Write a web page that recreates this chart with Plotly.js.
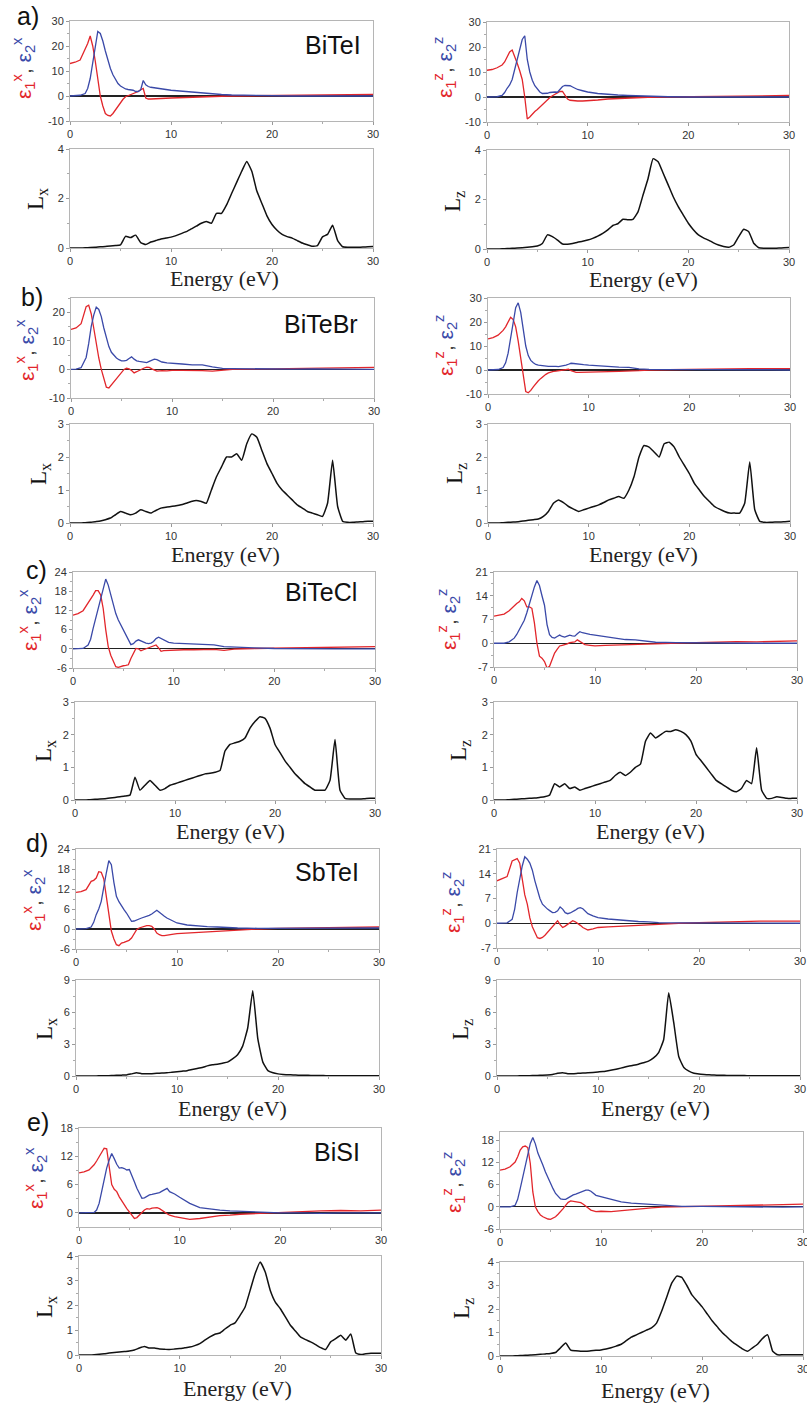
<!DOCTYPE html>
<html><head><meta charset="utf-8">
<script src="https://cdn.plot.ly/plotly-3.0.1.min.js"></script>
<style>html,body{margin:0;padding:0;background:#fff}#chart{width:807px;height:1406px}</style>
</head><body><div id="chart"></div>
<script>
const W = 807, H = 1406;
const RED = '#e2262b', BLUE = '#3a49a8';
const SANS = "'Liberation Sans', Arial, sans-serif";
const SERIF = "'Liberation Serif', 'Times New Roman', serif";

// Energy grids (eV)
const E_EPS = [0,0.5,1,1.5, 1.75,2,2.25,2.5, 2.75,3,3.25,3.5, 3.75,4,4.25,4.5, 4.75,5,5.25,5.5, 5.75,6,6.25,6.5, 6.75,7,7.25,7.5, 7.75,8,8.25,8.5, 8.75,9,9.5,10, 11,12,13,14, 15,16,18,20, 22,24,26,28, 30];
const E_LOSS = [0,0.5,1,1.5,2,2.5,3,3.5,4,4.5, 5,5.5,6,6.5,7,7.5,8,8.5,9,9.5, 10,10.5,11,11.5,12,12.5,13,13.5,14,14.5, 15,15.5,16,16.5,17,17.5,18,18.5,19,19.5, 20,20.5,21,21.5,22,22.5,23,23.5,24,24.5, 25,25.5,26,26.5,27,27.5,28,28.5,29,29.5, 30];

// a) BiTeI
const BiTeI_e1x = [13,13.5,14.4,18.5, 21,24,20,14, 6,0,-4,-7, -7.8,-8,-7,-5.5, -4,-2.5,-1.3,-0.3, 0.1,0.4,0.8,1.2, 1.8,2.5,3,-0.8, -1.2,-1.2,-1.1,-1.1, -1,-1,-0.9,-0.8, -0.6,-0.4,-0.3,-0.2, -0.1,0,0.1,0.2, 0.3,0.4,0.5,0.5, 0.6];
const BiTeI_e2x = [0,0.1,0.3,1, 3,7,13,20, 25.8,25,22,18, 14,11,8.5,6.5, 5,4,3.3,2.8, 2.6,2.6,2.3,1.8, 1.8,2.5,6.2,4.5, 3.8,3.5,3.3,3.1, 3,2.9,2.6,2.3, 1.9,1.5,1.1,0.9, 0.6,0.4,0.2,0.1, 0,0,0,0, 0];
const BiTeI_e1z = [10.7,11,11.7,12.8, 14,16,18,18.8, 16.5,13.5,10.5,7, 0,-8.8,-8,-6.8, -5.8,-5,-4,-3, -1.8,-1,-0.2,0.5, 1,1.6,2.2,2.2, 0.5,-0.8,-1.3,-1.5, -1.6,-1.6,-1.6,-1.5, -1.2,-0.8,-0.6,-0.4, -0.2,-0.1,0,0.1, 0.3,0.5,0.6,0.6, 0.6];
const BiTeI_e2z = [0,0,0.1,0.6, 1.8,3.5,4.8,7, 11,14.5,19,23, 24.5,15,10,6.7, 4.5,3,2,1.4, 1.3,1.5,1.8,2, 2,1.9,3,4.2, 4.6,4.7,4.5,4, 3.5,3,2.5,2, 1.4,1,0.8,0.6, 0.4,0.3,0.1,0, 0,0,0,0, 0];
const BiTeI_Lx = [0,0,0,0.01,0.02,0.03,0.05,0.06,0.08,0.1, 0.13,0.47,0.42,0.52,0.22,0.14,0.24,0.3,0.36,0.4, 0.44,0.5,0.58,0.66,0.77,0.88,1.0,1.07,1.0,1.4, 1.4,1.74,2.2,2.65,3.1,3.5,3.1,2.3,1.8,1.3, 0.95,0.72,0.55,0.46,0.4,0.3,0.2,0.13,0.07,0.1, 0.45,0.55,0.92,0.3,0.05,0.03,0.03,0.03,0.04,0.05, 0.06];
const BiTeI_Lz = [0,0,0,0.01,0.02,0.03,0.04,0.05,0.07,0.09, 0.12,0.22,0.57,0.5,0.36,0.2,0.19,0.22,0.27,0.31, 0.36,0.43,0.52,0.63,0.77,0.95,1.02,1.2,1.18,1.2, 1.5,2.18,2.85,3.65,3.53,3.06,2.59,2.11,1.71,1.37, 1.04,0.78,0.57,0.45,0.36,0.25,0.16,0.1,0.07,0.16, 0.5,0.8,0.7,0.23,0.05,0.03,0.03,0.03,0.04,0.05, 0.06];

// b) BiTeBr
const BiTeBr_e1x = [14,14.5,16,22, 22.5,19.5,14.5,9, 4,0,-3.5,-6.2, -6.5,-5.4,-4.2,-3, -1.8,-0.8,0,0.4, 0.2,-0.4,-1.2,-0.8, -0.3,0,0.5,0.8, 0.7,0.2,-0.3,-0.6, -0.5,-0.4,-0.5,-0.3, -0.3,-0.3,-0.4,-0.6, -0.2,0,0.1,0.2, 0.3,0.6,0.5,0.6, 0.7];
const BiTeBr_e2x = [0,0.1,0.6,4.2, 9,15,19,21.8, 21,18.5,14.5,10.7, 8,6,4.8,4, 3.4,3,3,3.2, 3.8,4.4,3.6,3, 2.8,2.7,2.5,2.4, 2.8,3.3,3.6,3.4, 3,2.6,2.3,2.1, 1.9,1.6,1.6,0.9, 0.4,0.3,0.2,0.1, 0.1,0.2,0.1,0.1, 0];
const BiTeBr_e1z = [13,13.5,14.5,16.5, 18,20,22,21, 18,12,5,-2, -9,-9.5,-8.5,-7, -5.5,-4.5,-3.5,-2.5, -1.8,-1.2,-0.8,-0.6, -0.5,-0.3,-0.2,0, 0.2,0.3,-0.3,-0.8, -1,-1,-1,-0.9, -0.8,-0.7,-0.6,-0.6, -0.3,0,0.2,0.3, 0.4,0.5,0.6,0.6, 0.6];
const BiTeBr_e2z = [0,0,0.2,1, 3,7,13,20, 26,28,24,17, 10,6,4,3, 2.3,2,1.8,1.7, 1.6,1.5,1.5,1.6, 1.5,1.4,1.5,1.8, 2,2.4,2.8,2.7, 2.5,2.4,2.2,2, 1.7,1.3,1.2,1.1, 0.5,0.3,0.2,0.1, 0.1,0.1,0.1,0.1, 0];
const BiTeBr_Lx = [0,0,0,0.01,0.02,0.04,0.06,0.1,0.15,0.25, 0.35,0.3,0.25,0.3,0.4,0.35,0.3,0.38,0.45,0.48, 0.5,0.52,0.55,0.6,0.65,0.68,0.65,0.6,1.0,1.4, 1.7,2.0,2.0,2.1,1.9,2.4,2.7,2.6,2.2,1.8, 1.5,1.2,1.0,0.85,0.7,0.55,0.45,0.35,0.3,0.25, 0.2,0.6,1.9,0.5,0.05,0.02,0.02,0.03,0.04,0.05, 0.05];
const BiTeBr_Lz = [0,0,0,0.01,0.02,0.03,0.04,0.06,0.08,0.1, 0.12,0.2,0.35,0.6,0.7,0.62,0.5,0.42,0.35,0.4, 0.45,0.5,0.55,0.62,0.7,0.75,0.8,0.75,1.0,1.4, 2.0,2.35,2.3,2.15,2.0,2.4,2.45,2.3,2.0,1.75, 1.5,1.2,1.0,0.8,0.65,0.5,0.42,0.35,0.3,0.3, 0.3,0.6,1.85,0.4,0.05,0.02,0.02,0.03,0.03,0.04, 0.05];

// c) BiTeCl
const BiTeCl_e1x = [10.5,11,11.9,14.2, 15.5,16.8,18.2,18.2, 16.8,12.6,6,0.7, -2,-4,-5.6,-5.8, -5.5,-5.3,-5.2,-5, -3,-1.3,0.1,0, -0.6,-0.3,0,0.2, 0.6,1,1.2,0.3, -0.8,-0.6,-0.5,-0.4, -0.3,-0.3,-0.2,-0.2, -0.5,-0.1,0.1,0.2, 0.3,0.4,0.5,0.6, 0.7];
const BiTeCl_e2x = [0,0,0.1,1.2, 3,6.4,9.5,13.1, 16,19.3,21.8,19.9, 17,13.7,11,9, 7.5,5.9,4.2,2.8, 1.3,1.6,2.4,2.8, 2.4,2,1.8,1.6, 1.8,2.3,3.2,3.6, 3.2,2.6,2,1.8, 1.6,1.4,1.3,1.2, 0.7,0.5,0.3,0.1, 0,0,0,0, 0];
const BiTeCl_e1z = [8,8.2,8.6,9.6, 10.3,11.2,11.7,12.2, 13.2,12.5,10.7,10.7, 10.3,6,0,-3.8, -4.4,-5.4,-7.3,-6.8, -5,-2.9,-1.8,-0.8, -0.6,-0.5,-0.2,0.2, 0.3,0.4,1,0.5, 0,-0.4,-0.6,-0.8, -0.6,-0.5,-0.4,-0.4, -0.3,0,0.1,0.2, 0.3,0.5,0.4,0.6, 0.7];
const BiTeCl_e2z = [0,0,0,0.4, 0.9,1.5,2.6,3.9, 5.3,6.8,9,11.7, 14,16.6,18.5,17, 14,11.2,5.5,2.5, 1.7,1.5,2,2.4, 2,1.8,2.1,2.4, 2.2,2.1,2.8,3.4, 3.1,2.9,2.6,2.4, 1.9,1.4,1.1,1, 0.6,0.3,0.2,0.1, 0.1,0.1,0,0, 0];
const BiTeCl_Lx = [0,0,0,0.01,0.02,0.03,0.04,0.06,0.08,0.1, 0.12,0.15,0.7,0.3,0.45,0.6,0.45,0.3,0.35,0.45, 0.5,0.55,0.6,0.65,0.7,0.75,0.8,0.82,0.85,0.9, 1.5,1.7,1.75,1.8,1.9,2.2,2.4,2.55,2.5,2.2, 1.7,1.45,1.2,1.0,0.8,0.65,0.5,0.4,0.3,0.3, 0.3,0.6,1.85,0.3,0.05,0.03,0.03,0.03,0.04,0.05, 0.05];
const BiTeCl_Lz = [0,0,0,0.01,0.02,0.03,0.04,0.05,0.06,0.08, 0.1,0.15,0.5,0.4,0.5,0.35,0.4,0.3,0.35,0.4, 0.45,0.5,0.55,0.6,0.75,0.85,0.75,0.85,1.0,1.1, 1.8,2.05,1.9,2.0,2.1,2.1,2.15,2.1,2.0,1.8, 1.4,1.2,1.0,0.8,0.6,0.5,0.4,0.3,0.25,0.35, 0.6,0.5,1.6,0.3,0.05,0.05,0.1,0.08,0.05,0.05, 0.05];

// d) SbTeI
const SbTeI_e1x = [11,11.2,11.8,14.3, 14.6,15.3,17.2,17, 15,9.8,3.5,-0.6, -3,-4.7,-5,-4.2, -4,-3.7,-3.4,-2.7, -1.4,-0.2,0.3,0.6, 0.8,1,1,0.8, 0,-1.2,-1.7,-2, -2,-1.8,-1.6,-1.4, -1.2,-1,-0.8,-0.6, -0.5,-0.3,0,0.2, 0.3,0.4,0.5,0.6, 0.6];
const SbTeI_e2x = [0,0,0.1,0.6, 2,4.3,6,8.3, 12,16.8,20.5,19.3, 14,9.8,8.2,6.8, 5.8,4.8,3.5,2.3, 2.4,2.8,3,3.3, 3.5,3.8,4.1,4.5, 5,5.6,5,4.3, 3.8,3.3,2.5,1.8, 1.2,0.9,0.7,0.6, 0.4,0.3,0.2,0.2, 0.2,0.2,0.2,0.3, 0.3];
const SbTeI_e1z = [12,12.5,13.2,17.6, 18,18.3,17,13, 8,5.4,1.5,-1, -2.8,-4.1,-4.3,-4, -3.4,-2.6,-1.6,-0.8, 0,0.7,-0.4,-1.2, -0.8,-0.3,0.2,0.7, 0.4,0,-0.6,-1.2, -1.6,-1.9,-1.6,-1.2, -1,-0.9,-0.7,-0.6, -0.4,-0.3,0,0.2, 0.3,0.5,0.6,0.6, 0.6];
const SbTeI_e2z = [0,0,0.1,1.1, 4,8.7,12.5,16.2, 18.8,18.1,17,15, 12,9.2,7,5.4, 4.6,4,3.5,3, 3.1,3.5,4.6,4, 3,2.7,2.9,3.2, 3.7,4.2,4.4,4.1, 3.5,2.7,2.1,1.6, 1.2,0.9,0.7,0.5, 0.4,0.2,0.1,0.1, 0,0,0,0, 0];
const SbTeI_Lx = [0,0,0,0,0.01,0.02,0.03,0.04,0.06,0.08, 0.1,0.2,0.3,0.22,0.2,0.22,0.25,0.28,0.3,0.35, 0.4,0.45,0.5,0.6,0.7,0.8,0.95,1.05,1.1,1.2, 1.3,1.6,2.0,2.8,4.5,8.0,3.5,1.3,0.5,0.3, 0.2,0.15,0.12,0.1,0.08,0.07,0.06,0.05,0.04,0.04, 0.03,0.03,0.02,0.02,0.02,0.02,0.02,0.02,0.02,0.02, 0.02];
const SbTeI_Lz = [0,0,0,0,0.01,0.02,0.03,0.04,0.05,0.07, 0.1,0.15,0.25,0.3,0.22,0.22,0.25,0.28,0.3,0.33, 0.38,0.42,0.5,0.58,0.68,0.8,0.92,1.0,1.1,1.25, 1.4,1.7,2.2,3.4,7.8,5.0,1.8,0.8,0.45,0.25, 0.18,0.14,0.11,0.09,0.07,0.06,0.05,0.05,0.04,0.04, 0.03,0.03,0.03,0.02,0.02,0.02,0.02,0.02,0.02,0.02, 0.02];

// e) BiSI
const BiSI_e1x = [8.5,8.7,9.1,10.2, 11,11.9,12.8,13.7, 13.6,10.2,6,5, 4.5,3.4,2.5,1.6, 0.9,0.2,-0.6,-1.2, -1,-0.5,0.2,0.6, 0.9,0.8,1,1.1, 1.1,0.9,0.6,0.2, -0.2,-0.5,-0.8,-1, -1.4,-1.2,-0.9,-0.6, -0.5,-0.3,-0.1,0.1, 0.3,0.4,0.5,0.4, 0.6];
const BiSI_e2x = [0,0,0,0.1, 0.6,2,4.5,7, 9.5,11.2,12.6,11.5, 10.3,9.5,9.6,9.4, 9.1,9.2,8,6.6, 5.2,4.1,3.1,3.2, 3.5,3.8,3.9,4, 4.1,4.3,4.6,5, 5.2,4.5,4,3.3, 2,1.1,0.8,0.6, 0.4,0.3,0.1,0, 0,-0.1,0,0, 0];
const BiSI_e1z = [9.9,10.2,10.8,12.1, 13.5,15.3,16.2,16.4, 16,11.7,4,0, -1.3,-2.2,-2.7,-3.1, -3.3,-3.4,-3.1,-2.7, -2,-1.3,-0.5,0.4, 1.2,1.6,1.5,1.3, 1.2,1.1,0.7,0.2, -0.4,-0.9,-1.3,-1.2, -1.3,-1,-0.8,-0.5, -0.3,-0.1,0,0.2, 0.3,0.5,0.5,0.6, 0.7];
const BiSI_e2z = [0,0,0,0.4, 2,4.9,8,11.7, 14.5,17.1,18.7,17, 14.5,13,11.2,9.4, 7.8,6.3,4.9,3.6, 2.7,2.1,2,2, 2.4,2.9,3.2,3.4, 3.7,4,4.3,4.5, 4.5,4.2,3.1,2.7, 2,1.3,1,0.8, 0.5,0.3,0.1,0.1, 0,0,-0.1,-0.1, 0];
const BiSI_Lx = [0,0,0,0.01,0.03,0.05,0.08,0.1,0.12,0.14, 0.16,0.2,0.28,0.34,0.28,0.28,0.24,0.23,0.22,0.24, 0.26,0.29,0.32,0.38,0.46,0.6,0.73,0.84,0.89,1.05, 1.2,1.3,1.6,1.94,2.61,3.29,3.76,3.35,2.61,2.14, 1.87,1.54,1.2,0.97,0.73,0.62,0.53,0.42,0.3,0.22, 0.53,0.66,0.8,0.6,0.85,0.08,0.02,0.05,0.07,0.07, 0.07];
const BiSI_Lz = [0,0,0,0.01,0.02,0.03,0.04,0.05,0.07,0.09, 0.11,0.15,0.35,0.55,0.25,0.22,0.2,0.2,0.22,0.24, 0.26,0.3,0.35,0.42,0.5,0.65,0.8,0.9,1.0,1.1, 1.2,1.4,1.9,2.5,3.1,3.4,3.35,3.0,2.6,2.35, 2.1,1.8,1.5,1.25,1.0,0.8,0.6,0.45,0.3,0.2, 0.35,0.5,0.75,0.9,0.2,0.05,0.05,0.05,0.05,0.05, 0.05];

// Tick labels
const X_TICKS = [0,10,20,30];

// Panel layout: pixel boxes [left, right, top, bottom]
const PANELS = [
  {kind:'eps', a:BiTeI_e1x, b:BiTeI_e2x, box:[70,373,21,121], yr:[-10,30], yt:[-10,0,10,20,30], ym:5},
  {kind:'eps', a:BiTeI_e1z, b:BiTeI_e2z, box:[487,789,22,122], yr:[-10,30], yt:[-10,0,10,20,30], ym:5},
  {kind:'loss', a:BiTeI_Lx, box:[70,373,149,248], yr:[0,4], yt:[0,2,4], ym:1},
  {kind:'loss', a:BiTeI_Lz, box:[487,789,150,249], yr:[0,4], yt:[0,2,4], ym:1},

  {kind:'eps', a:BiTeBr_e1x, b:BiTeBr_e2x, box:[71,374,298,398], yr:[-10,25], yt:[-10,0,10,20], ym:5},
  {kind:'eps', a:BiTeBr_e1z, b:BiTeBr_e2z, box:[488,790,298,394], yr:[-10,30], yt:[-10,0,10,20,30], ym:5},
  {kind:'loss', a:BiTeBr_Lx, box:[70,373,424,523], yr:[0,3], yt:[0,1,2,3], ym:0.5},
  {kind:'loss', a:BiTeBr_Lz, box:[488,790,424,523], yr:[0,3], yt:[0,1,2,3], ym:0.5},

  {kind:'eps', a:BiTeCl_e1x, b:BiTeCl_e2x, box:[73,375,572,668], yr:[-6,24], yt:[-6,0,6,12,18,24], ym:3},
  {kind:'eps', a:BiTeCl_e1z, b:BiTeCl_e2z, box:[494,797,572,667], yr:[-7,21], yt:[-7,0,7,14,21], ym:3.5},
  {kind:'loss', a:BiTeCl_Lx, box:[75,375,702,800], yr:[0,3], yt:[0,1,2,3], ym:0.5},
  {kind:'loss', a:BiTeCl_Lz, box:[494,797,702,800], yr:[0,3], yt:[0,1,2,3], ym:0.5},

  {kind:'eps', a:SbTeI_e1x, b:SbTeI_e2x, box:[76,379,849,949], yr:[-6,24], yt:[-6,0,6,12,18,24], ym:3},
  {kind:'eps', a:SbTeI_e1z, b:SbTeI_e2z, box:[497,800,849,948], yr:[-7,21], yt:[-7,0,7,14,21], ym:3.5},
  {kind:'loss', a:SbTeI_Lx, box:[76,379,980,1076], yr:[0,9], yt:[0,3,6,9], ym:1.5},
  {kind:'loss', a:SbTeI_Lz, box:[497,800,980,1076], yr:[0,9], yt:[0,3,6,9], ym:1.5},

  {kind:'eps', a:BiSI_e1x, b:BiSI_e2x, box:[79,381,1128,1227], yr:[-3,18], yt:[0,6,12,18], ym:3},
  {kind:'eps', a:BiSI_e1z, b:BiSI_e2z, box:[500,803,1132,1229], yr:[-6,20.2], yt:[-6,0,6,12,18], ym:3},
  {kind:'loss', a:BiSI_Lx, box:[79,381,1256,1355], yr:[0,4], yt:[0,1,2,3,4], ym:0.5},
  {kind:'loss', a:BiSI_Lz, box:[500,803,1262,1356], yr:[0,4], yt:[0,1,2,3,4], ym:0.5}
];

const traces = [];
const layout = {
  width: W, height: H, margin: {l:0, r:0, t:0, b:0},
  paper_bgcolor: '#fff', plot_bgcolor: '#fff', showlegend: false,
  font: {family: SANS, size: 11, color: '#333'},
  annotations: []
};

PANELS.forEach((p, i) => {
  const n = i + 1, sfx = n === 1 ? '' : String(n);
  const [l, r, t, b] = p.box;
  const tickfont = {family: SANS, size: 11, color: '#333'};
  layout['xaxis' + sfx] = {
    domain: [l / W, r / W], anchor: 'y' + sfx, range: [0, 30],
    tickmode: 'array', tickvals: X_TICKS, ticktext: X_TICKS.map(String),
    ticks: 'outside', ticklen: 3, tickcolor: '#999', tickfont, ticklabeloverflow: 'allow',
    minor: {tickmode: 'linear', tick0: 0, dtick: 5, ticks: 'outside', ticklen: 2, tickcolor: '#aaa'},
    showline: true, mirror: true, linecolor: '#b5b5b5', linewidth: 1,
    showgrid: false, zeroline: false, fixedrange: true
  };
  layout['yaxis' + sfx] = {
    domain: [1 - b / H, 1 - t / H], anchor: 'x' + sfx, range: p.yr,
    tickmode: 'array', tickvals: p.yt, ticktext: p.yt.map(String),
    ticks: 'outside', ticklen: 3, tickcolor: '#999', tickfont,
    minor: {tickmode: 'linear', tick0: 0, dtick: p.ym, ticks: 'outside', ticklen: 2, tickcolor: '#aaa'},
    showline: true, mirror: true, linecolor: '#b5b5b5', linewidth: 1,
    showgrid: false, fixedrange: true,
    zeroline: p.kind === 'eps', zerolinecolor: '#222', zerolinewidth: 1.4
  };
  const xa = 'x' + sfx, ya = 'y' + sfx;
  if (p.kind === 'eps') {
    traces.push({x: E_EPS, y: p.a, xaxis: xa, yaxis: ya, mode: 'lines', line: {color: RED, width: 1.3}});
    traces.push({x: E_EPS, y: p.b, xaxis: xa, yaxis: ya, mode: 'lines', line: {color: BLUE, width: 1.3}});
  } else {
    traces.push({x: E_LOSS, y: p.a, xaxis: xa, yaxis: ya, mode: 'lines', line: {color: '#111', width: 1.5, shape: 'spline', smoothing: 0.4}});
  }
});

function ann(text, px, py, font, angle) {
  layout.annotations.push({
    text, x: px / W, y: 1 - py / H, xref: 'paper', yref: 'paper',
    xanchor: 'center', yanchor: 'middle', showarrow: false, font,
    textangle: angle || 0
  });
}

const LABELS = ['a)', 'b)', 'c)', 'd)', 'e)'];
const NAMES = ['BiTeI', 'BiTeBr', 'BiTeCl', 'SbTeI', 'BiSI'];
const labelPos = [[28,16],[32,297],[36,570],[37,843],[38,1122]];
const namePos = [[333,45],[321,324],[321,592],[327,872],[337,1152]];
const epsTitleL = [[24,68],[26,350],[30,620],[33,900],[35,1178]];
const epsTitleR = [[445,68],[446,346],[449,620],[452,903],[453,1183]];
const lossTitleL = [[37,199],[40,474],[45,751],[46,1029],[46,1307]];
const lossTitleR = [[454,201],[456,474],[460,751],[462,1029],[463,1309]];
const energyL = [[224,279],[225,554],[231,831],[232,1108],[237,1388]];
const energyR = [[643,280],[643,554],[650,831],[655,1108],[655,1390]];

const epsText = c => `<span style="color:${RED}">ε<sub>1</sub><sup>${c}</sup></span><span style="color:#444">, </span><span style="color:${BLUE}">ε<sub>2</sub><sup>${c}</sup></span>`;

for (let k = 0; k < 5; k++) {
  ann(LABELS[k], labelPos[k][0], labelPos[k][1], {family: SANS, size: 25, color: '#111'});
  ann(NAMES[k], namePos[k][0], namePos[k][1], {family: SANS, size: 25, color: '#111'});
  ann(epsText('x'), epsTitleL[k][0], epsTitleL[k][1], {family: SANS, size: 21, color: '#444'}, -90);
  ann(epsText('z'), epsTitleR[k][0], epsTitleR[k][1], {family: SANS, size: 21, color: '#444'}, -90);
  ann('L<sub>x</sub>', lossTitleL[k][0], lossTitleL[k][1], {family: SERIF, size: 23, color: '#111'}, -90);
  ann('L<sub>z</sub>', lossTitleR[k][0], lossTitleR[k][1], {family: SERIF, size: 23, color: '#111'}, -90);
  ann('Energy (eV)', energyL[k][0], energyL[k][1], {family: SERIF, size: 22, color: '#222'});
  ann('Energy (eV)', energyR[k][0], energyR[k][1], {family: SERIF, size: 22, color: '#222'});
}

Plotly.newPlot('chart', traces, layout, {staticPlot: true, displayModeBar: false});
</script>
</body></html>
